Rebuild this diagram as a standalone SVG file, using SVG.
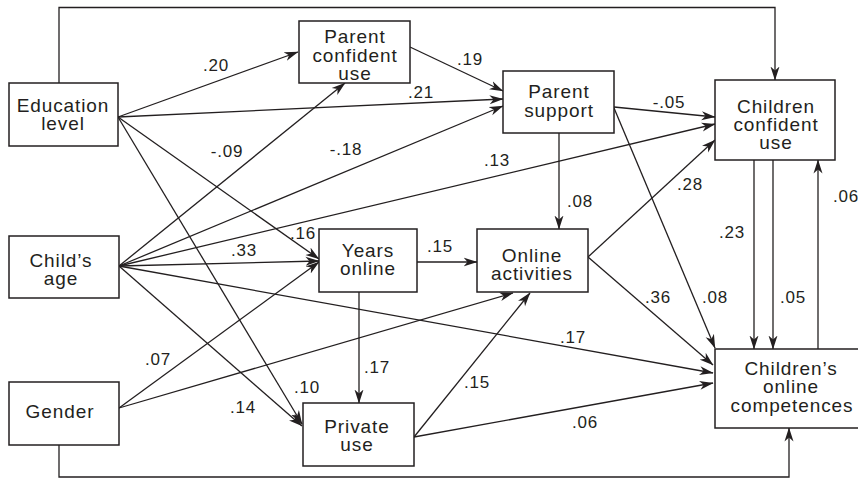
<svg xmlns="http://www.w3.org/2000/svg" width="858" height="479" viewBox="0 0 858 479">
  <style>
    .box { fill: #ffffff; stroke: #231f20; stroke-width: 1.5; }
    .node text { font-family: "Liberation Sans", Arial, sans-serif; font-size: 19px; letter-spacing: 0.9px; fill: #231f20; text-anchor: middle; }
    .edge { fill: none; stroke: #231f20; stroke-width: 1.3; }
    .arrow { marker-end: url(#head); }
    .lbl { font-family: "Liberation Sans", Arial, sans-serif; font-size: 17px; letter-spacing: 0.8px; fill: #231f20; text-anchor: middle; }
  </style>
  <defs>
    <marker id="head" viewBox="0 0 14 10" refX="13.5" refY="5" markerWidth="14" markerHeight="10" markerUnits="userSpaceOnUse" orient="auto">
      <path d="M0,0.5 L14,5 L0,9.5 L4,5 z" fill="#231f20"/>
    </marker>
  </defs>
  <rect width="858" height="479" fill="#ffffff"/>

  <!-- paths between variables -->
  <g id="connectors">
    <path class="edge arrow" d="M59,83 V7.5 H775 V80"/>
    <path class="edge arrow" d="M59,445 V477 H789 V428"/>
    <!-- from Education level -->
    <line class="edge arrow" x1="118" y1="117" x2="298" y2="52"/>
    <line class="edge arrow" x1="118" y1="117" x2="503" y2="99"/>
    <line class="edge arrow" x1="118" y1="117" x2="319" y2="259"/>
    <line class="edge arrow" x1="118" y1="117" x2="302" y2="424"/>
    <!-- from Child's age -->
    <line class="edge arrow" x1="119" y1="266" x2="345" y2="83"/>
    <line class="edge arrow" x1="119" y1="266" x2="503" y2="106"/>
    <line class="edge arrow" x1="119" y1="266" x2="715" y2="124"/>
    <line class="edge arrow" x1="119" y1="266" x2="319" y2="261"/>
    <line class="edge arrow" x1="119" y1="266" x2="302" y2="426"/>
    <line class="edge arrow" x1="119" y1="266" x2="713" y2="373"/>
    <!-- from Gender -->
    <line class="edge arrow" x1="119" y1="408" x2="319" y2="262"/>
    <line class="edge arrow" x1="119" y1="408" x2="513" y2="293"/>
    <!-- from Parent confident use -->
    <line class="edge arrow" x1="410" y1="47" x2="503" y2="91"/>
    <!-- from Parent support -->
    <line class="edge arrow" x1="614" y1="107" x2="715" y2="117"/>
    <line class="edge arrow" x1="559" y1="133" x2="559" y2="229"/>
    <line class="edge arrow" x1="614" y1="108" x2="715" y2="348"/>
    <!-- from Years online -->
    <line class="edge arrow" x1="417" y1="262" x2="477" y2="262"/>
    <line class="edge arrow" x1="359" y1="292" x2="359" y2="403"/>
    <!-- from Online activities -->
    <line class="edge arrow" x1="588" y1="257" x2="715" y2="140"/>
    <line class="edge arrow" x1="588" y1="257" x2="713" y2="365"/>
    <!-- from Private use -->
    <line class="edge arrow" x1="414" y1="437" x2="530" y2="293"/>
    <line class="edge arrow" x1="414" y1="437" x2="713" y2="383"/>
    <!-- between the two children outcomes -->
    <line class="edge arrow" x1="754" y1="160" x2="754" y2="349"/>
    <line class="edge arrow" x1="773" y1="160" x2="773" y2="349"/>
    <line class="edge arrow" x1="818" y1="349" x2="818" y2="160"/>
  </g>

  <!-- path coefficients -->
  <g id="coefficients">
    <text class="lbl" x="216" y="71">.20</text>
    <text class="lbl" x="421" y="98">.21</text>
    <text class="lbl" x="470" y="65">.19</text>
    <text class="lbl" x="227" y="157">-.09</text>
    <text class="lbl" x="346" y="155">-.18</text>
    <text class="lbl" x="497" y="166">.13</text>
    <text class="lbl" x="669" y="108">-.05</text>
    <text class="lbl" x="580" y="207">.08</text>
    <text class="lbl" x="690" y="190">.28</text>
    <text class="lbl" x="303" y="239">.16</text>
    <text class="lbl" x="244" y="256">.33</text>
    <text class="lbl" x="440" y="252">.15</text>
    <text class="lbl" x="732" y="238">.23</text>
    <text class="lbl" x="658" y="303">.36</text>
    <text class="lbl" x="715" y="303">.08</text>
    <text class="lbl" x="793" y="303">.05</text>
    <text class="lbl" x="833" y="202" style="text-anchor:start">.06</text>
    <text class="lbl" x="573" y="343">.17</text>
    <text class="lbl" x="158" y="365">.07</text>
    <text class="lbl" x="377" y="373">.17</text>
    <text class="lbl" x="477" y="388">.15</text>
    <text class="lbl" x="307" y="393">.10</text>
    <text class="lbl" x="243" y="413">.14</text>
    <text class="lbl" x="585" y="428">.06</text>
  </g>

  <g id="education-level" class="node">
    <rect class="box" x="9" y="83" width="109" height="63"/>
    <text x="63" y="112">Education</text>
    <text x="63" y="130">level</text>
  </g>
  <g id="childs-age" class="node">
    <rect class="box" x="9" y="236" width="110" height="62"/>
    <text x="61" y="267">Child’s</text>
    <text x="61" y="285">age</text>
  </g>
  <g id="gender" class="node">
    <rect class="box" x="9" y="382" width="110" height="63"/>
    <text x="60" y="418">Gender</text>
  </g>
  <g id="parent-confident-use" class="node">
    <rect class="box" x="299" y="21" width="111" height="62"/>
    <text x="355" y="43">Parent</text>
    <text x="355" y="61.5">confident</text>
    <text x="355" y="80">use</text>
  </g>
  <g id="parent-support" class="node">
    <rect class="box" x="503" y="71" width="111" height="62"/>
    <text x="559" y="98">Parent</text>
    <text x="559" y="117">support</text>
  </g>
  <g id="years-online" class="node">
    <rect class="box" x="319" y="229" width="98" height="63"/>
    <text x="368" y="257">Years</text>
    <text x="368" y="275">online</text>
  </g>
  <g id="online-activities" class="node">
    <rect class="box" x="477" y="229" width="111" height="63"/>
    <text x="532" y="262">Online</text>
    <text x="532" y="280">activities</text>
  </g>
  <g id="private-use" class="node">
    <rect class="box" x="303" y="403" width="111" height="63"/>
    <text x="357" y="433">Private</text>
    <text x="357" y="451">use</text>
  </g>
  <g id="children-confident-use" class="node">
    <rect class="box" x="715" y="80" width="120" height="80"/>
    <text x="776" y="113">Children</text>
    <text x="776" y="131">confident</text>
    <text x="776" y="149">use</text>
  </g>
  <g id="childrens-online-competences" class="node">
    <rect class="box" x="715" y="349" width="150" height="79"/>
    <text x="791" y="375">Children’s</text>
    <text x="791" y="393">online</text>
    <text x="792" y="412">competences</text>
  </g>
</svg>
